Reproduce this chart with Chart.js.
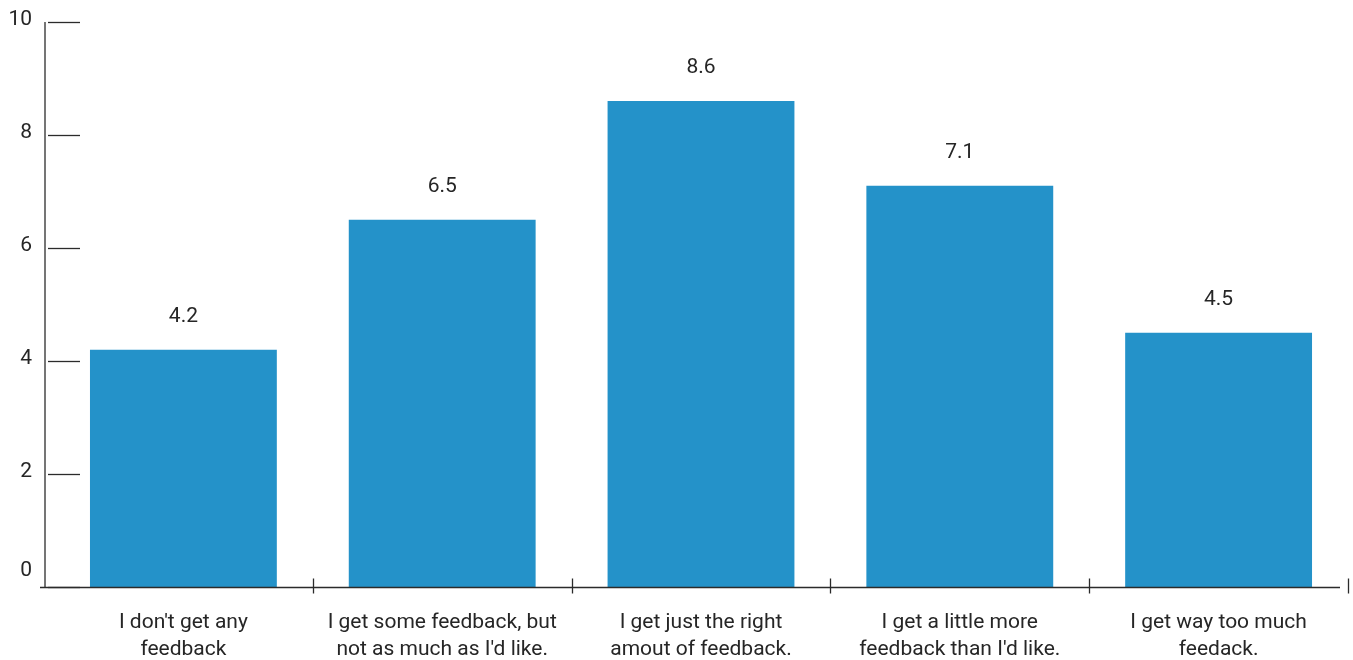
<!DOCTYPE html>
<html>
<head>
<meta charset="utf-8">
<script src="https://cdn.jsdelivr.net/npm/chart.js@4/dist/chart.umd.min.js"></script>
<style>
html,body{margin:0;padding:0;background:#fff;}
#wrap{width:1353px;height:660px;position:relative;}
</style>
</head>
<body>
<div id="wrap"><canvas id="c" width="1353" height="660"></canvas></div>
<script>
const categories = [
  ["I don't get any", "feedback"],
  ["I get some feedback, but", "not as much as I'd like."],
  ["I get just the right", "amout of feedback."],
  ["I get a little more", "feedback than I'd like."],
  ["I get way too much", "feedack."]
];
const values = [4.2, 6.5, 8.6, 7.1, 4.5];
const valueLabels = ["4.2", "6.5", "8.6", "7.1", "4.5"];
const yTicks = [0, 2, 4, 6, 8, 10];
const yTickLabels = ["0", "2", "4", "6", "8", "10"];

const FONT = "Roboto";
const TXT = "#262626";
const LINE = "#2b2b2b";

const axesPlugin = {
  id: 'customAxes',
  afterDatasetsDraw(chart) {
    const ctx = chart.ctx;
    const area = chart.chartArea;
    const x = chart.scales.x, y = chart.scales.y;
    ctx.save();
    ctx.strokeStyle = LINE;
    ctx.lineWidth = 1.3;
    const y0 = y.getPixelForValue(0);
    const axX = area.left - 9;
    ctx.beginPath();
    ctx.moveTo(axX, y.getPixelForValue(10));
    ctx.lineTo(axX, y0);
    ctx.stroke();
    yTicks.forEach(v => {
      const py = Math.round(y.getPixelForValue(v)) + 0.5;
      ctx.beginPath();
      ctx.moveTo(axX + 3, py);
      ctx.lineTo(axX + 35, py);
      ctx.stroke();
    });
    const n = categories.length;
    const w = (area.right - area.left) / n;
    const by = Math.round(y0) + 0.5;
    ctx.beginPath();
    ctx.moveTo(axX - 5, by);
    ctx.lineTo(area.right - 8, by);
    ctx.stroke();
    for (let i = 1; i <= n; i++) {
      const px = Math.round(area.left + w * i) + 0.5;
      ctx.beginPath();
      ctx.moveTo(px, by - 9);
      ctx.lineTo(px, by + 6);
      ctx.stroke();
    }
    ctx.fillStyle = TXT;
    ctx.font = "21px " + FONT;
    ctx.textAlign = "right";
    ctx.textBaseline = "middle";
    yTicks.forEach((v, i) => {
      let py = y.getPixelForValue(v) - 2;
      if (v === 0) py = y0 - 16;
      ctx.fillText(yTickLabels[i], axX - 13, py);
    });
    ctx.textAlign = "center";
    values.forEach((v, i) => {
      const px = x.getPixelForValue(i);
      const py = y.getPixelForValue(v) - 33;
      ctx.fillText(valueLabels[i], px, py);
    });
    ctx.restore();
  }
};

new Chart(document.getElementById('c'), {
  type: 'bar',
  data: {
    labels: categories,
    datasets: [{
      data: values,
      backgroundColor: '#2492c9',
      borderWidth: 0,
      categoryPercentage: 1,
      barPercentage: 0.722
    }]
  },
  options: {
    responsive: false,
    animation: false,
    devicePixelRatio: 1,
    layout: { padding: { top: 22, right: 5, left: 0, bottom: 0 } },
    plugins: { legend: { display: false }, tooltip: { enabled: false } },
    scales: {
      x: {
        grid: { display: false, drawTicks: false },
        border: { display: false },
        ticks: {
          color: TXT,
          font: { family: FONT, size: 21, lineHeight: 1.25 },
          padding: 23,
          maxRotation: 0,
          autoSkip: false
        },
        afterFit(s) { s.height = 73; }
      },
      y: {
        min: 0, max: 10,
        grid: { display: false, drawTicks: false },
        border: { display: false },
        ticks: { display: false, stepSize: 2 },
        afterFit(s) { s.width = 54; }
      }
    }
  },
  plugins: [axesPlugin]
});
</script>
</body>
</html>
